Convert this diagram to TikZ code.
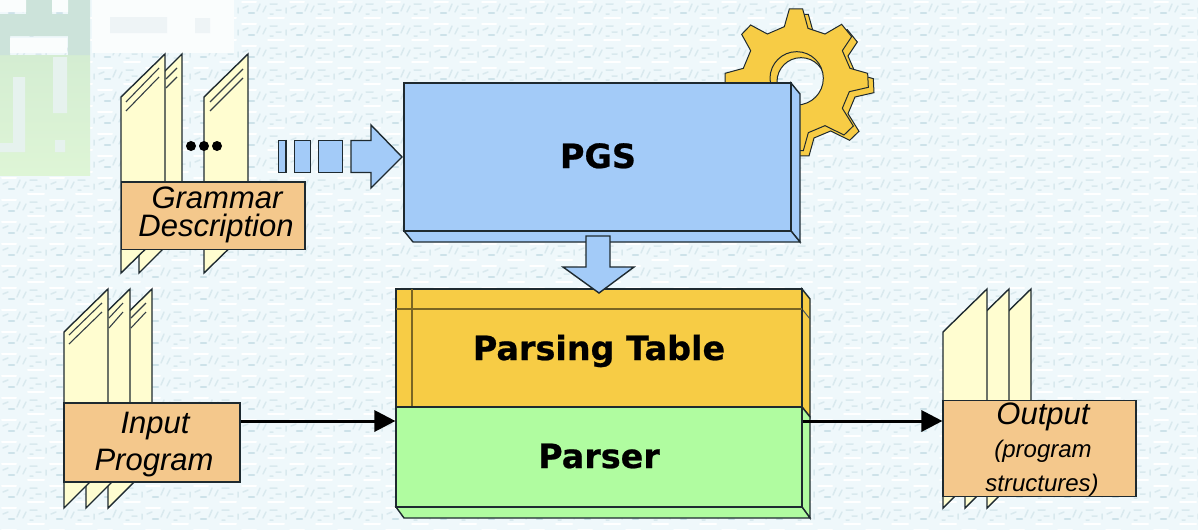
\documentclass[tikz,border=0pt]{standalone}
\usepackage{fontspec}
\setmainfont{Liberation Sans}
\newfontfamily\boldface{DejaVu Sans}[BoldFeatures={FakeBold=0.7}]
\usetikzlibrary{calc}
\definecolor{bgbase}{HTML}{EFF8FB}
\definecolor{bgmark}{HTML}{CDE2E9}
\definecolor{ink}{HTML}{1E2A30}
\definecolor{bluefill}{HTML}{A3CBF8}
\definecolor{yellowfill}{HTML}{F7CC45}
\definecolor{greenfill}{HTML}{B0FCA0}
\definecolor{paperfill}{HTML}{FFFDD0}
\definecolor{tagfill}{HTML}{F4C88C}
\definecolor{emblemtop}{HTML}{D4EDD2}
\definecolor{emblembot}{HTML}{DEF5D6}
\definecolor{emblemdark}{HTML}{CCE3DA}
\definecolor{emblemmark}{HTML}{E6F2EE}
\definecolor{emblemwhite}{HTML}{FAFDFD}
\definecolor{emblemfaint}{HTML}{EEF4F6}
\tikzset{
  x=1pt,y=-1pt,
  outline/.style={draw=ink,line width=1.4pt,line join=miter},
  paper/.style={outline,fill=paperfill},
  paperline/.style={draw=ink!90,line width=1.1pt},
  tag/.style={outline,fill=tagfill,inner sep=0pt},
  bluepart/.style={outline,fill=bluefill},
  gearpart/.style={draw=ink,line width=1pt,fill=yellowfill,even odd rule},
  blockbox/.style={outline,inner sep=0pt},
  bigtext/.style={anchor=base,font=\boldface\bfseries\fontsize{33.4}{33.4}\selectfont,text=black,inner sep=0pt},
  tagtext/.style={anchor=base,font=\itshape\fontsize{31}{31}\selectfont,text=black,inner sep=0pt},
  smalltext/.style={anchor=base,font=\itshape\fontsize{24}{24}\selectfont,text=black,inner sep=0pt},
  flow/.style={draw=black,line width=3pt},
  flowhead/.style={fill=black,draw=none},
  grain/.style={draw=bgmark,line width=2.4pt,line cap=round},
  grainsoft/.style={draw=bgmark!75,line width=1.5pt,line cap=round},
  grainlight/.style={draw=white,line width=2pt,line cap=round}
}
\newcommand{\gearpts}{(208,27) -- (248,27) -- (264,85) -- (315,102) -- (365,73) -- (395,110) -- (367,152) -- (390,205) -- (443,220) -- (445,262) -- (388,275) -- (367,325) -- (400,378) -- (372,405) -- (315,377) -- (265,398) -- (250,452) -- (210,452) -- (195,400) -- (142,377) -- (92,405) -- (65,375) -- (92,325) -- (70,275) -- (15,262) -- (15,220) -- (70,205) -- (92,152) -- (65,103) -- (92,75) -- (142,102) -- (193,80) -- cycle}
\begin{document}
\begin{tikzpicture}
\useasboundingbox (0,0) rectangle (1198,530);
\fill[bgbase] (0,0) rectangle (1198,530);
% background grain
\foreach \r in {0,...,24}{
 \foreach \c in {0,...,24}{
  \begin{scope}[shift={(\c*48,\r*22)}]
   \draw[grainlight] (2,2) -- (16,2) (28,18) -- (44,18);
   \draw[grain] (9,13) -- (14,13);
   \draw[grainsoft] (3,8) -- (8,6) (20,4) -- (17,11) (26,6) -- (23,12) (30,4) -- (37,4) (36,10) -- (41,10) (46,8) -- (46,13) (30,14) -- (33,14);
  \end{scope}
 }
}
% faded emblem, top left
\fill[emblemwhite] (92,0) rectangle (234,53);
\fill[emblemfaint] (110,17) rectangle (167,33) (195,18) rectangle (210,33);
\shade[top color=emblemtop,bottom color=emblembot] (0,55) rectangle (90,175);
\fill[emblemdark] (0,14) rectangle (90,36) (26,0) rectangle (52,14) (68,0) rectangle (90,55) (0,36) rectangle (10,55);
\fill[emblemwhite] (0,0) rectangle (26,12) (52,0) rectangle (68,12) (10,38) rectangle (67,53);
\fill[emblemmark] (13,77) rectangle (25,150) (0,143) rectangle (25,152) (53,57) rectangle (67,113) (55,140) rectangle (65,152);
% gear
\begin{scope}[shift={(720,0)},x=0.3333pt,y=-0.3333pt]
 \begin{scope}[shift={(17,16)}]
  \path[gearpart] \gearpts (226,229) circle[radius=72];
 \end{scope}
 \path[gearpart] \gearpts (230,235) circle[radius=80];
\end{scope}
% PGS
\draw[bluepart] (791,83) -- (800,94) -- (800,242) -- (791,231) -- cycle;
\draw[bluepart] (404,231) -- (413,242) -- (800,242) -- (791,231) -- cycle;
\node[blockbox,fill=bluefill,minimum width=387pt,minimum height=148pt] (pgs) at (597.5,157) {};
\node[bigtext] (pgslabel) at (598,168) {PGS};
% grammar papers
\draw[paper] (204,97) -- (248,54) -- (248,230) -- (204,273) -- cycle;
\draw[paper] (139,97) -- (182,54) -- (182,230) -- (139,273) -- cycle;
\draw[paper] (121,97) -- (165,54) -- (165,230) -- (121,273) -- cycle;
\draw[paperline] (126,102) -- (159,68) (126,111) -- (159,77) (166,79) -- (177,68) (166,88) -- (177,77) (210,102) -- (243,69) (210,111) -- (243,78);
\fill[black] (191,146) circle[radius=5] (204,146) circle[radius=5] (217,146) circle[radius=5];
\node[tag,minimum width=183.5pt,minimum height=67.5pt] (grammar) at (213.25,215.75) {};
\node[tagtext] (grammarA) at (217,208) {Grammar};
\node[tagtext] (grammarB) at (216,236) {Description};
% dashed block arrow
\draw[bluepart] (278.5,140.5) rectangle (286,172.5);
\draw[bluepart] (294.5,140.5) rectangle (310.5,172.5);
\draw[bluepart] (318.5,140.5) rectangle (342.5,172.5);
\draw[bluepart] (351,140.5) -- (371,140.5) -- (371,125) -- (402,157) -- (371,188) -- (371,172.5) -- (351,172.5) -- cycle;
% parsing table
\draw[outline,fill=yellowfill] (802,289) -- (810,299) -- (810,417) -- (802,407) -- cycle;
\draw[outline,draw=ink!80,line width=1pt] (802,309) -- (810,319);
\node[blockbox,fill=yellowfill,minimum width=406pt,minimum height=118pt] (table) at (599,348) {};
\draw[draw=yellowfill!50!black,line width=1.4pt] (396,309) -- (802,309) (412,289) -- (412,407);
\node[bigtext] (tablelabel) at (599,360) {Parsing Table};
% parser
\draw[outline,fill=greenfill] (802,407) -- (810,417) -- (810,518) -- (802,507) -- cycle;
\draw[outline,fill=greenfill] (396,507) -- (404,518) -- (810,518) -- (802,507) -- cycle;
\node[blockbox,fill=greenfill,minimum width=406pt,minimum height=100pt] (parser) at (599,457) {};
\node[bigtext] (parserlabel) at (599,468) {Parser};
% down arrow
\draw[bluepart] (586,236) -- (610,236) -- (610,267) -- (634,267) -- (599,293) -- (563,267) -- (586,267) -- cycle;
% input papers
\draw[paper] (108,332) -- (152,289) -- (152,464) -- (108,508) -- cycle;
\draw[paper] (86,332) -- (130,289) -- (130,464) -- (86,508) -- cycle;
\draw[paper] (64,332) -- (108,289) -- (108,464) -- (64,508) -- cycle;
\draw[paperline] (69,335) -- (102,303) (69,344) -- (102,312) (109,318) -- (123,303) (109,328) -- (123,312) (131,318) -- (146,303) (131,328) -- (146,312);
\node[tag,minimum width=176pt,minimum height=79pt] (input) at (152,442.5) {};
\node[tagtext] (inputA) at (155,433) {Input};
\node[tagtext] (inputB) at (154,470) {Program};
% output papers
\draw[paper] (987,332) -- (1031,289) -- (1031,464) -- (987,508) -- cycle;
\draw[paper] (965,332) -- (1009,289) -- (1009,464) -- (965,508) -- cycle;
\draw[paper] (943,332) -- (987,289) -- (987,464) -- (943,508) -- cycle;
\node[tag,minimum width=193pt,minimum height=96pt] (output) at (1039.5,448.75) {};
\node[tagtext] (outputA) at (1043,424) {Output};
\node[smalltext] (outputB) at (1043,457) {(program};
\node[smalltext] (outputC) at (1042,491) {structures)};
% connectors
\draw[flow] ([yshift=21.5pt]input.east) -- ([yshift=36pt,xshift=-20pt]parser.west);
\path[flowhead] ([yshift=36pt]parser.west) -- ++(-21,-11) -- ++(0,22) -- cycle;
\draw[flow] ([yshift=36pt]parser.east) -- ([yshift=27.75pt,xshift=-20pt]output.west);
\path[flowhead] ([yshift=27.75pt]output.west) -- ++(-21,-11) -- ++(0,22) -- cycle;
\end{tikzpicture}
\end{document}
